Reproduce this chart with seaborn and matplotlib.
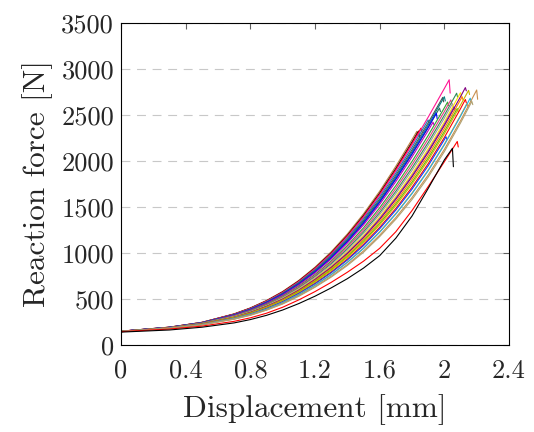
import numpy as np
import pandas as pd
import seaborn as sns
import matplotlib
matplotlib.use("Agg")
import matplotlib.pyplot as plt
from matplotlib.ticker import FuncFormatter

# Displacement grid [mm] shared by all curves
DISP_GRID = [0.0, 0.3, 0.5, 0.7, 0.8, 0.9, 1.0, 1.1, 1.2, 1.3, 1.4, 1.5, 1.6, 1.7, 1.8, 1.9, 2.0, 2.1]

# Reaction force [N] at each grid point, one list per test curve
FORCE_CURVES = [
    [150, 194, 246, 339, 403, 484, 582, 702, 845, 1012, 1205, 1424, 1670, 1941, 2231],
    [150, 193, 245, 336, 400, 479, 576, 695, 836, 1000, 1190, 1406, 1649, 1916, 2203],
    [150, 193, 245, 335, 398, 477, 573, 691, 831, 994, 1183, 1397, 1639, 1904, 2189],
    [150, 193, 244, 334, 396, 475, 570, 687, 827, 988, 1175, 1388, 1628, 1891, 2175, 2474, 2785],
    [149, 192, 243, 331, 393, 470, 564, 680, 817, 977, 1161, 1370, 1607, 1866, 2147],
    [149, 191, 242, 329, 389, 465, 559, 673, 808, 965, 1146, 1352, 1585, 1842, 2119, 2412],
    [149, 191, 241, 327, 387, 462, 554, 667, 801, 956, 1135, 1339, 1569, 1823, 2098, 2389],
    [149, 191, 240, 324, 383, 458, 548, 660, 791, 944, 1120, 1321, 1548, 1799, 2070, 2359],
    [149, 191, 240, 325, 384, 459, 550, 661, 794, 947, 1124, 1325, 1554, 1805, 2077, 2366],
    [149, 190, 239, 322, 380, 453, 542, 652, 782, 932, 1106, 1303, 1527, 1774, 2042, 2328],
    [148, 189, 237, 317, 374, 445, 532, 639, 765, 911, 1080, 1272, 1490, 1731, 1993, 2275, 2575],
    [148, 188, 235, 314, 369, 439, 525, 630, 754, 897, 1062, 1249, 1463, 1700, 1958, 2236, 2535],
    [148, 188, 234, 311, 365, 434, 517, 620, 742, 882, 1043, 1227, 1437, 1669, 1923, 2198, 2495],
    [148, 187, 233, 309, 362, 429, 512, 613, 733, 870, 1029, 1209, 1416, 1644, 1895, 2168, 2463],
    [147, 186, 231, 305, 357, 423, 504, 604, 721, 855, 1010, 1187, 1389, 1613, 1860, 2129, 2422],
    [147, 186, 230, 303, 355, 420, 500, 598, 714, 846, 999, 1173, 1373, 1595, 1839, 2106, 2398],
    [147, 186, 230, 302, 353, 418, 497, 594, 709, 840, 992, 1164, 1362, 1582, 1825, 2091, 2382, 2696],
    [147, 185, 228, 300, 349, 413, 491, 587, 700, 829, 977, 1146, 1341, 1557, 1797, 2060, 2350, 2663],
    [147, 184, 227, 297, 346, 408, 485, 580, 690, 817, 962, 1128, 1320, 1533, 1769, 2030, 2318],
    [146, 183, 225, 292, 339, 399, 473, 565, 671, 793, 933, 1093, 1277, 1483, 1713, 1969, 2253, 2566],
    [146, 184, 226, 295, 343, 405, 481, 574, 683, 808, 951, 1115, 1304, 1514, 1748, 2007, 2293, 2606],
    [146, 183, 224, 290, 336, 396, 469, 559, 664, 784, 922, 1079, 1262, 1465, 1692, 1946, 2229],
    [146, 182, 222, 286, 331, 389, 460, 548, 650, 766, 900, 1052, 1230, 1428, 1650, 1900, 2181, 2492],
    [146, 182, 222, 286, 330, 388, 459, 546, 648, 763, 896, 1048, 1224, 1422, 1643, 1892, 2173, 2484],
    [145, 181, 220, 282, 325, 381, 450, 535, 634, 746, 874, 1021, 1192, 1384, 1601, 1846, 2124, 2435],
    [145, 181, 219, 280, 322, 378, 445, 529, 627, 737, 863, 1007, 1177, 1366, 1580, 1823, 2100, 2411],
    [145, 173, 205, 257, 295, 345, 410, 490, 580, 680, 790, 910, 1050, 1230, 1460, 1720, 1990],
    [140, 163, 193, 240, 276, 322, 380, 450, 530, 620, 720, 835, 970, 1160, 1400, 1700, 2010],
]

# Failure point (displacement, peak force) and force right after the drop
END_DISP = [1.83, 1.84, 1.855, 2.03, 1.90, 1.99, 2.00, 1.97, 1.95, 1.93, 2.02, 2.04, 2.076, 2.05,
            2.10, 2.06, 2.13, 2.11, 2.08, 2.13, 2.15, 2.01, 2.14, 2.16, 2.20, 2.17, 2.08, 2.05]
PEAK_FORCE = [2320, 2323, 2354, 2880, 2443, 2689, 2696, 2573, 2519, 2419, 2638, 2661, 2734, 2620,
              2740, 2586, 2795, 2696, 2568, 2666, 2765, 2262, 2624, 2680, 2769, 2645, 2210, 2136]
DROP_FORCE = [2270, 2265, 2315, 2735, 2410, 2640, 2650, 2535, 2455, 2390, 2600, 2620, 2690, 2580,
              2700, 2550, 2760, 2660, 2530, 2630, 2720, 2230, 2590, 2640, 2668, 2610, 2150, 1936]

CURVE_COLORS = ["#BF8040", "#000000", "#FF0000", "#FF1493", "#1F77B4", "#505050", "#008080",
                "#2F6F5F", "#0000FF", "#C000C0", "#30A030", "#E04080", "#2E8B57", "#A0A0A0",
                "#FFE600", "#9040A0", "#800080", "#FF8000", "#60C000", "#FF0000", "#C8B400",
                "#1040FF", "#FF9020", "#20B0E0", "#C89050", "#B0A070", "#FF0000", "#000000"]

rows = []
for k, forces in enumerate(FORCE_CURVES):
    name = f"c{k:02d}"
    for d, f in zip(DISP_GRID, forces):
        rows.append((name, d, f))
    rows.append((name, END_DISP[k], PEAK_FORCE[k]))
    rows.append((name, END_DISP[k] + 0.006, DROP_FORCE[k]))
df = pd.DataFrame(rows, columns=["curve", "disp", "force"])
palette = {f"c{k:02d}": c for k, c in enumerate(CURVE_COLORS)}

sns.set_theme(style="white")
plt.rcParams["font.family"] = ["cmr10", "DejaVu Serif"]
plt.rcParams["axes.formatter.use_mathtext"] = True
plt.rcParams["mathtext.fontset"] = "cm"

fig = plt.figure(figsize=(5.34, 4.32), dpi=100)
ax = fig.add_axes([0.2266, 0.2014, 0.7266, 0.7461])

sns.lineplot(data=df, x="disp", y="force", hue="curve", palette=palette, units="curve",
             estimator=None, sort=False, legend=False, linewidth=0.8, ax=ax)

ax.set_xlim(0, 2.4)
ax.set_ylim(0, 3500)
ax.set_xticks(np.arange(0, 2.41, 0.4))
ax.set_yticks(np.arange(0, 3501, 500))
ax.xaxis.set_major_formatter(FuncFormatter(lambda v, p: f"{v:g}"))
ax.yaxis.set_major_formatter(FuncFormatter(lambda v, p: f"{v:.0f}"))
ax.yaxis.grid(True, color="#C8C8C8", linestyle=(0, (8, 6)), linewidth=0.8)
ax.xaxis.grid(False)
ax.tick_params(direction="in", length=4, width=0.8, color="#606060",
               top=True, right=True, labelsize=19, pad=5)
ax.tick_params(axis="x", pad=10)
for s in ax.spines.values():
    s.set_color("black")
    s.set_linewidth(0.8)

ax.set_xlabel("Displacement [mm]", fontsize=22.5, labelpad=8)
ax.set_ylabel("Reaction force [N]", fontsize=22.5, labelpad=6)

fig.savefig("out.png", dpi=100)
